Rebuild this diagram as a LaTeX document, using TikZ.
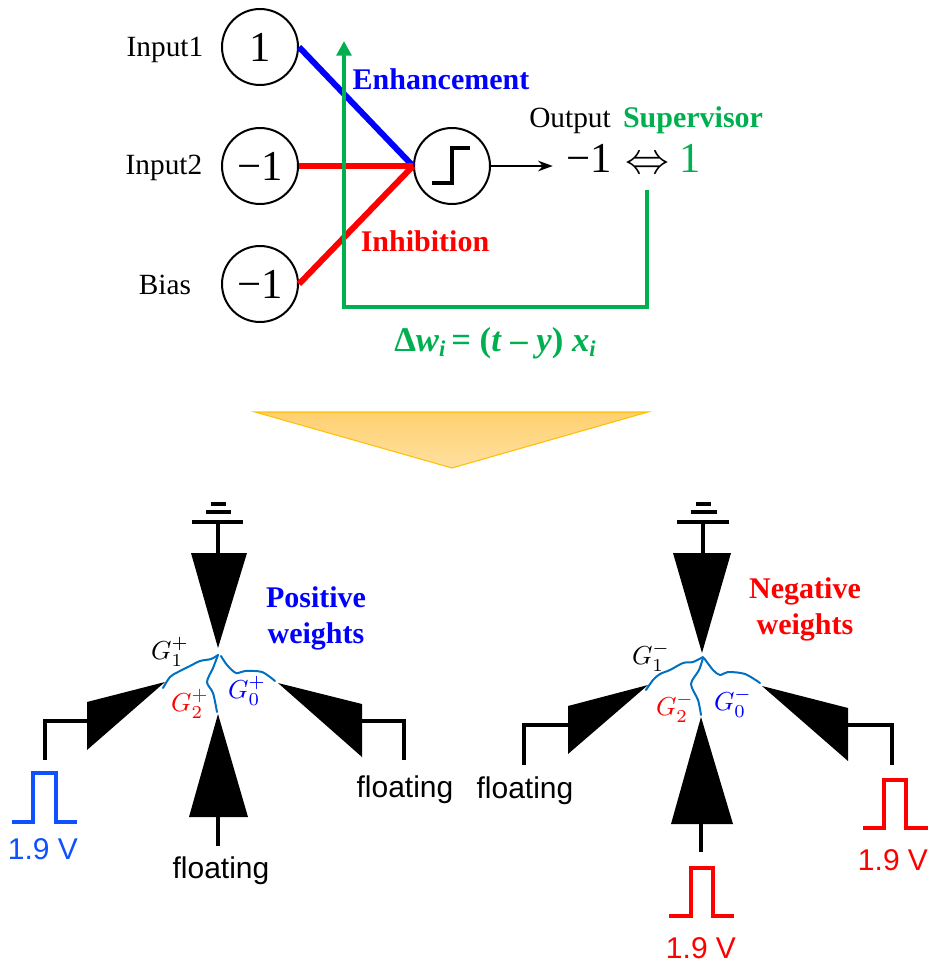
\documentclass[tikz,border=0pt]{standalone}
\usepackage{fontspec}
\setmainfont{Liberation Serif}
\newfontfamily\armfont{Liberation Sans}
\usetikzlibrary{arrows.meta, positioning}
\definecolor{enh}{HTML}{0000FF}
\definecolor{inh}{HTML}{FF0000}
\definecolor{sup}{HTML}{00B050}
\definecolor{pulseblue}{HTML}{0F50FF}
\definecolor{fil}{HTML}{0070C0}
\definecolor{bigtop}{HTML}{FFD070}
\definecolor{bigbot}{HTML}{FFE0A0}
\definecolor{bigline}{HTML}{FFC000}
\newcommand{\subi}{\raisebox{-4pt}{\fontsize{17}{17}\selectfont\itshape i}}
\tikzset{
  neuron/.style={circle, draw, line width=1.5pt, minimum size=57pt, inner sep=0pt, font=\fontsize{32}{32}\selectfont},
  lbl/.style={inner sep=0pt, font=\fontsize{22}{26}\selectfont},
  bold/.style={inner sep=0pt, align=center, font=\fontsize{22.5}{27}\selectfont\bfseries},
  arm/.style={inner sep=0pt, font=\fontsize{22.5}{26}\selectfont\armfont},
  gval/.style={inner sep=0pt, scale=1.95},
  wire/.style={line width=2.5pt},
  pulse/.style={line width=2.6pt, miter limit=10},
  fbline/.style={sup, line width=3pt},
  filament/.style={fil, line width=1.5pt, line cap=round},
}
\begin{document}
\begin{tikzpicture}[x=0.75pt, y=-0.75pt]
  \useasboundingbox (0,0) rectangle (929,963);
  % Perceptron
  \node[neuron] (in1) at (260,47) {1};
  \node[neuron] (in2) at (260,166) {−1};
  \node[neuron] (bias) at (260,284) {−1};
  \node[neuron] (step) at (452,166) {};
  \node[lbl] (in1lbl) at (165,50) {Input1};
  \node[lbl] (in2lbl) at (164,168) {Input2};
  \node[lbl] (biaslbl) at (165,285) {Bias};
  \draw[line width=2.4pt] (432,183) -- (452,183) -- (452,148) -- (470,148);
  \node[lbl] (outlbl) at (570,121) {Output};
  \node[inner sep=0pt, font=\fontsize{32}{32}\selectfont] (outval) at (589,158) {−1};
  \node[inner sep=0pt, scale=3.3] (iff) at (647,165) {$\Leftrightarrow$};
  \node[inner sep=0pt, sup, font=\fontsize{32}{32}\selectfont] (supval) at (690,158) {1};
  \node[bold, sup] (suplbl) at (693,120) {Supervisor};
  \node[bold, enh] (enhlbl) at (441,79) {Enhancement};
  \node[bold, inh] (inhlbl) at (425,241) {Inhibition};
  \node[bold, sup, font=\fontsize{26}{30}\selectfont\bfseries] (rule) at (495,343) {Δ\textit{w}\subi\,= (\textit{t} – \textit{y}) \textit{x}\subi};
  \draw[-{Stealth[length=11pt,width=8pt]}, line width=1.2pt] (step.east) -- ([xshift=-10pt]step.east -| outval.west);
  \draw[enh, line width=4.5pt] (in1.east) -- (step.west);
  \foreach \n in {in2,bias}
    \draw[inh, line width=4.5pt] (\n.east) -- (step.west);
  % Feedback
  \coordinate (fbstart) at (647,190);
  \coordinate (fbend) at (344,41);
  \draw[fbline, -{Triangle[length=11pt,width=11pt]}] (fbstart) |- (344,307) -- (fbend);
  % Big arrow
  \draw[top color=bigtop, bottom color=bigbot, draw=bigline, line width=0.8pt]
    (255,412) -- (648,412) -- (452,468) -- cycle;
  % Positive weights
  \fill (191,553) -- (247,553) -- (218,648) -- cycle;
  \fill (218,714) -- (248,817) -- (189,817) -- cycle;
  \fill (87,702) -- (165,682) -- (87,750) -- cycle;
  \fill (362,704) -- (278,683) -- (362,757) -- cycle;
  \draw[wire] (192,522) -- (243,522);
  \draw[wire] (206,512) -- (231,512);
  \draw[wire] (211,504) -- (226,504);
  \draw[wire] (218,522) -- (218,553);
  \draw[wire] (218,817) -- (218,846);
  \draw[wire] (87,721) -- (45,721) -- (45,760);
  \draw[wire] (362,721) -- (404,721) -- (404,760);
  \draw[pulse, pulseblue] (12,822) -- (33,822) -- (33,773) -- (56,773) -- (56,822) -- (77,822);
  \draw[filament] plot[smooth, tension=0.5] coordinates {(218,655) (211,659) (200,661) (190,666) (178,672) (170,677) (163,688)};
  \draw[filament] plot[smooth, tension=0.5] coordinates {(218,655) (213,668) (207,682) (213,693) (217,712)};
  \draw[filament] plot[smooth, tension=0.5] coordinates {(221,656) (227,665) (236,673) (245,671) (262,672) (275,681)};
  \node[gval] (gp1) at (170,652) {$G_1^+$};
  \node[gval, inh] (gp2) at (190,704) {$G_2^+$};
  \node[gval, enh] (gp0) at (247,691) {$G_0^+$};
  \node[bold, enh] (poslbl) at (316,618) {Positive\\weights};
  \node[arm, pulseblue] (pv) at (43,849) {1.9 V};
  \node[arm] (pf0) at (405,790) {floating};
  \node[arm] (pf2) at (221,871) {floating};
  % Negative weights
  \fill (673,553) -- (731,553) -- (702,653) -- cycle;
  \fill (701,717) -- (733,824) -- (671,824) -- cycle;
  \fill (568,706) -- (648,685) -- (568,754) -- cycle;
  \fill (848,708) -- (762,686) -- (848,761) -- cycle;
  \draw[wire] (677,522) -- (729,522);
  \draw[wire] (691,512) -- (717,512);
  \draw[wire] (696,504) -- (711,504);
  \draw[wire] (703,522) -- (703,553);
  \draw[wire] (701,824) -- (701,852);
  \draw[wire] (568,725) -- (524,725) -- (524,765);
  \draw[wire] (848,725) -- (892,725) -- (892,765);
  \draw[pulse, inh] (863,828) -- (884,828) -- (884,780) -- (906,780) -- (906,828) -- (928,828);
  \draw[pulse, inh] (669,916) -- (691,916) -- (691,868) -- (713,868) -- (713,916) -- (734,916);
  \draw[filament] plot[smooth, tension=0.5] coordinates {(703,657) (693,662) (683,663) (670,670) (660,674) (653,680) (646,690)};
  \draw[filament] plot[smooth, tension=0.5] coordinates {(703,658) (699,670) (691,684) (698,700) (701,715)};
  \draw[filament] plot[smooth, tension=0.5] coordinates {(704,658) (713,670) (720,675) (728,672) (745,674) (760,683)};
  \node[gval] (gn1) at (651,657) {$G_1^-$};
  \node[gval, inh] (gn2) at (675,708) {$G_2^-$};
  \node[gval, enh] (gn0) at (733,703) {$G_0^-$};
  \node[bold, inh] (neglbl) at (805,609) {Negative\\weights};
  \node[arm, inh] (nv0) at (893,860) {1.9 V};
  \node[arm, inh] (nv2) at (701,948) {1.9 V};
  \node[arm] (nf1) at (525,791) {floating};
\end{tikzpicture}
\end{document}
